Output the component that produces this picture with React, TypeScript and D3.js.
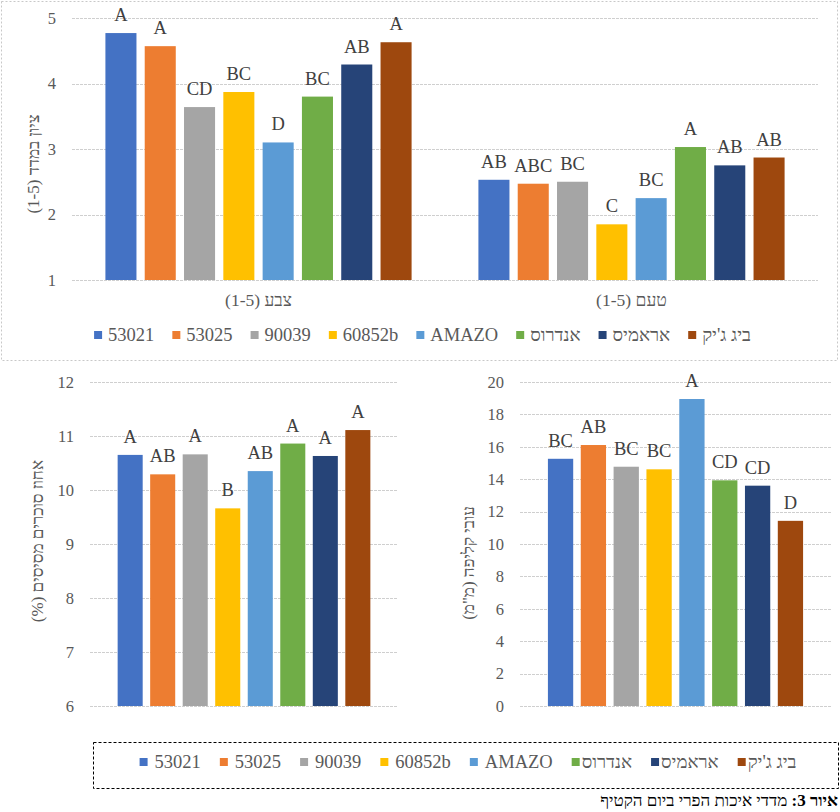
import { useRef, useEffect } from 'react'
import * as d3 from 'd3'

// varieties and their bar colours
const varieties = ['53021', '53025', '90039', '60852b', 'AMAZO', 'אנדרוס', 'אראמיס', "ביג ג'יק"]
const colors = ['#4472C4', '#ED7D31', '#A5A5A5', '#FFC000', '#5B9BD5', '#70AD47', '#264478', '#9E480E']

// top chart: score (1-5) for colour and taste
const scoreCategories = ['צבע (1-5)', 'טעם (1-5)']
const colorScores = [4.77, 4.57, 3.64, 3.87, 3.1, 3.8, 4.29, 4.63]
const colorLetters = ['A', 'A', 'CD', 'BC', 'D', 'BC', 'AB', 'A']
const tasteScores = [2.53, 2.47, 2.5, 1.85, 2.25, 3.03, 2.75, 2.87]
const tasteLetters = ['AB', 'ABC', 'BC', 'C', 'BC', 'A', 'AB', 'AB']
const scoreTicks = [1, 2, 3, 4, 5]

// bottom left: soluble sugars (%)
const sugarValues = [10.65, 10.29, 10.66, 9.66, 10.35, 10.86, 10.63, 11.11]
const sugarLetters = ['A', 'AB', 'A', 'B', 'AB', 'A', 'A', 'A']
const sugarTicks = [6, 7, 8, 9, 10, 11, 12]

// bottom right: peel thickness (mm)
const peelValues = [15.26, 16.11, 14.77, 14.61, 18.95, 13.93, 13.6, 11.43]
const peelLetters = ['BC', 'AB', 'BC', 'BC', 'A', 'CD', 'CD', 'D']
const peelTicks = [0, 2, 4, 6, 8, 10, 12, 14, 16, 18, 20]

const scoreTitle = 'ציון במדד (1-5)'
const sugarTitle = 'אחוז סוכרים מסיסים (%)'
const peelTitle = 'עובי קליפה (מ"מ)'
const captionBold = 'איור 3: '
const captionText = 'מדדי איכות הפרי ביום הקטיף'

const FONT = '"Liberation Serif", "Times New Roman", serif'
const GRAY = '#595959'
const isHebrew = (s: string) => /[\u0590-\u05FF]/.test(s)

type G = d3.Selection<SVGGElement, unknown, null, undefined>

function drawGrid(g: G, y: d3.ScaleLinear<number, number>, ticks: number[], x0: number, x1: number) {
  g.selectAll(null)
    .data(ticks)
    .enter()
    .append('line')
    .attr('x1', x0)
    .attr('x2', x1)
    .attr('y1', d => Math.round(y(d)) + 0.5)
    .attr('y2', d => Math.round(y(d)) + 0.5)
    .attr('stroke', '#cfcfcf')
    .attr('stroke-dasharray', '3,1')
  g.selectAll(null)
    .data(ticks)
    .enter()
    .append('text')
    .attr('x', x0 - 16)
    .attr('y', d => y(d))
    .attr('dy', '0.35em')
    .attr('text-anchor', 'end')
    .attr('font-size', 16.5)
    .attr('fill', GRAY)
    .text(d => d)
}

function drawBars(
  g: G,
  x: d3.ScaleBand<string>,
  offset: number,
  y: d3.ScaleLinear<number, number>,
  base: number,
  values: number[],
  letters: string[]
) {
  g.selectAll(null)
    .data(values)
    .enter()
    .append('rect')
    .attr('x', (_, i) => offset + (x(varieties[i]) || 0))
    .attr('y', d => y(d))
    .attr('width', x.bandwidth())
    .attr('height', d => y(base) - y(d))
    .attr('fill', (_, i) => colors[i])
  g.selectAll(null)
    .data(values)
    .enter()
    .append('text')
    .attr('x', (_, i) => offset + (x(varieties[i]) || 0) + x.bandwidth() / 2)
    .attr('y', d => y(d) - 12)
    .attr('text-anchor', 'middle')
    .attr('font-size', 18.5)
    .attr('fill', '#404040')
    .text((_, i) => letters[i])
}

function drawLegend(g: G, cx: number, cy: number, latinGap: number, hebGap: number, itemGap: number) {
  const lg = g.append('g')
  let cursor = 0
  varieties.forEach((v, i) => {
    lg.append('rect')
      .attr('x', cursor)
      .attr('y', cy - 4)
      .attr('width', 8)
      .attr('height', 8)
      .attr('fill', colors[i])
    const t = lg
      .append('text')
      .attr('x', cursor + (isHebrew(v) ? hebGap : latinGap))
      .attr('y', cy)
      .attr('dy', '0.35em')
      .attr('font-size', 18.5)
      .attr('fill', GRAY)
      .text(v)
    const w = (t.node() as SVGTextElement).getComputedTextLength()
    cursor += (isHebrew(v) ? hebGap : latinGap) + w + itemGap
  })
  const total = cursor - itemGap
  lg.attr('transform', `translate(${cx - total / 2},0)`)
}

function yTitle(g: G, x: number, y: number, label: string) {
  g.append('text')
    .attr('transform', `translate(${x},${y}) rotate(-90)`)
    .attr('direction', 'rtl')
    .attr('text-anchor', 'middle')
    .attr('dy', '0.35em')
    .attr('font-size', 17)
    .attr('fill', GRAY)
    .text(label)
}

const App = () => {
  const ref = useRef<SVGSVGElement>(null)

  useEffect(() => {
    if (!ref.current) return
    const svg = d3.select(ref.current)
    svg.selectAll('*').remove()
    const root = svg.append('g').attr('font-family', FONT) as G

    // top panel frame
    root.append('rect')
      .attr('x', 1.5)
      .attr('y', 1.5)
      .attr('width', 836)
      .attr('height', 359)
      .attr('fill', 'none')
      .attr('stroke', '#c8c8c8')
      .attr('stroke-dasharray', '2,2')

    // ---- top chart: colour & taste scores
    const top = root.append('g') as G
    const yScore = d3.scaleLinear().domain([1, 5]).range([280, 18])
    const xCat = d3.scaleBand<string>().domain(scoreCategories).range([72, 818]).padding(0)
    const xVar = d3
      .scaleBand<string>()
      .domain(varieties)
      .range([0, xCat.bandwidth()])
      .paddingInner(0.21)
      .paddingOuter(0.85)
    drawGrid(top, yScore, scoreTicks, 72, 818)
    drawBars(top, xVar, xCat(scoreCategories[0]) || 0, yScore, 1, colorScores, colorLetters)
    drawBars(top, xVar, xCat(scoreCategories[1]) || 0, yScore, 1, tasteScores, tasteLetters)
    top.selectAll(null)
      .data(scoreCategories)
      .enter()
      .append('text')
      .attr('x', d => (xCat(d) || 0) + xCat.bandwidth() / 2)
      .attr('y', 300)
      .attr('dy', '0.35em')
      .attr('direction', 'rtl')
      .attr('text-anchor', 'middle')
      .attr('font-size', 17.5)
      .attr('fill', GRAY)
      .text(d => d)
    yTitle(top, 33, 164, scoreTitle)
    drawLegend(top, 422.5, 335, 14, 14, 18)

    // ---- bottom left: soluble sugars
    const bl = root.append('g') as G
    const ySugar = d3.scaleLinear().domain([6, 12]).range([706, 382])
    const xSugar = d3.scaleBand<string>().domain(varieties).range([90, 398]).paddingInner(0.23).paddingOuter(0.85)
    drawGrid(bl, ySugar, sugarTicks, 90, 398)
    drawBars(bl, xSugar, 0, ySugar, 6, sugarValues, sugarLetters)
    yTitle(bl, 37, 541, sugarTitle)

    // ---- bottom right: peel thickness
    const br = root.append('g') as G
    const yPeel = d3.scaleLinear().domain([0, 20]).range([706, 382])
    const xPeel = d3.scaleBand<string>().domain(varieties).range([520, 831]).paddingInner(0.23).paddingOuter(0.85)
    drawGrid(br, yPeel, peelTicks, 520, 831)
    drawBars(br, xPeel, 0, yPeel, 0, peelValues, peelLetters)
    yTitle(br, 468, 563, peelTitle)

    // ---- shared legend box
    root.append('rect')
      .attr('x', 93.5)
      .attr('y', 742.5)
      .attr('width', 745)
      .attr('height', 46)
      .attr('fill', 'none')
      .attr('stroke', '#000')
      .attr('stroke-dasharray', '3,2')
    drawLegend(root, 468, 762, 15, 10, 19)

    // ---- caption
    const cap = root.append('text')
      .attr('x', 838)
      .attr('y', 806)
      .attr('direction', 'rtl')
      .attr('text-anchor', 'start')
      .attr('font-size', 17)
      .attr('fill', '#000')
    cap.append('tspan').attr('font-weight', 'bold').text(captionBold)
    cap.append('tspan').text(captionText)
  }, [])

  return (
    <svg
      ref={ref}
      width={840}
      height={812}
      style={{ position: 'absolute', left: 0, top: 0, background: '#fff' }}
    />
  )
}

export default App
